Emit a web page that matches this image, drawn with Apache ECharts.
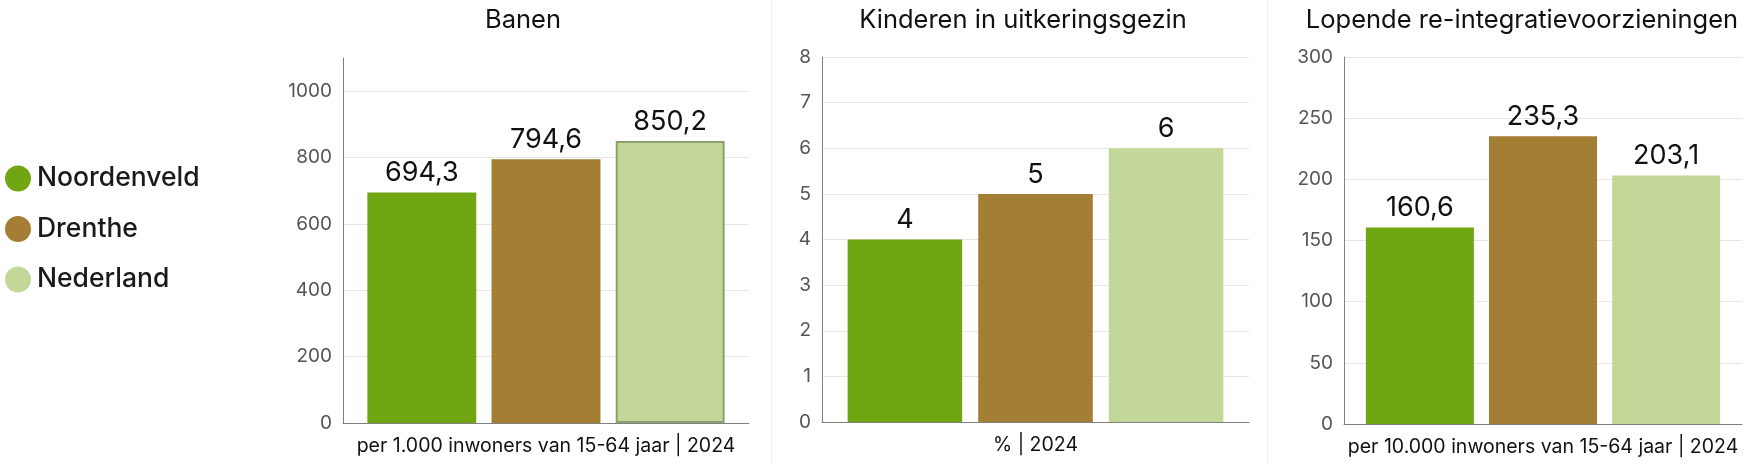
<!DOCTYPE html>
<html lang="nl">
<head>
  <meta charset="UTF-8">
  <title>kerncijfers</title>
  <script src="https://cdn.jsdelivr.net/npm/echarts@6/dist/echarts.min.js"></script>
  <style>
    *{
      margin:0;
      padding:0;
    }
    body{
      background:#fff;
    }
    .container{
      width:1754px;
      height:464px;
    }
  </style>
</head>
<body>
  <div class="container"></div>

  <script type="text/javascript">
    // gebieden (legenda)
    var regions = ['Noordenveld', 'Drenthe', 'Nederland']
    var regionColors = ['#6fa612', '#a57e35', '#c3d898']

    // titels en eenheden per paneel
    var titles = ['Banen', 'Kinderen in uitkeringsgezin', 'Lopende re-integratievoorzieningen']
    var units = [
      'per 1.000 inwoners van 15-64 jaar | 2024',
      '% | 2024',
      'per 10.000 inwoners van 15-64 jaar | 2024'
    ]

    // waarden per paneel (volgorde = regions)
    var banen = [694.3, 794.6, 850.2]
    var kinderen = [4, 5, 6]
    var reintegratie = [160.6, 235.3, 203.1]

    // y-as schaal per paneel
    var yMax = [1100, 8, 300]
    var yInterval = [200, 1, 50]

    var panelData = [banen, kinderen, reintegratie]

    var grids = [
      { left: 343, top: 58, width: 406, height: 365 },
      { left: 822, top: 57, width: 427, height: 365 },
      { left: 1344, top: 57, width: 398, height: 367 }
    ]
    var catGaps = ['12%', '12%', '11%']
    var titleCenters = [518, 1018, 1517]

    var font = 'Inter, "Noto Sans", sans-serif'

    const mCharts = echarts.init(document.querySelector('.container'))

    var series = []
    panelData.forEach(function(vals, p){
      regions.forEach(function(name, i){
        series.push({
          name: name,
          type: 'bar',
          xAxisIndex: p,
          yAxisIndex: p,
          data: [vals[i]],
          barGap: '14%',
          barCategoryGap: catGaps[p],
          itemStyle: {
            color: regionColors[i],
            // Nederland in het eerste paneel heeft een rand (hover-stand in het origineel)
            borderColor: (p === 0 && i === 2) ? '#8ca06c' : regionColors[i],
            borderWidth: (p === 0 && i === 2) ? 2 : 0
          },
          label: {
            show: true,
            position: 'top',
            distance: 6,
            fontFamily: font,
            fontSize: 27,
            color: '#111',
            formatter: function(d){ return String(d.value).replace('.', ',') }
          }
        })
      })
    })

    var option = {
      animation: false,
      textStyle: { fontFamily: font },
      title: titles.map(function(t, p){
        return {
          text: t,
          left: titleCenters[p],
          top: 2,
          textAlign: 'center',
          textStyle: { fontFamily: font, fontSize: 25.5, fontWeight: 'normal', color: '#111' }
        }
      }),
      legend: {
        data: regions,
        orient: 'vertical',
        left: 0,
        top: 160,
        icon: 'circle',
        itemWidth: 26,
        itemHeight: 26,
        itemGap: 23.5,
        itemStyle: { borderWidth: 0 },
        textStyle: { fontFamily: font, fontSize: 26.5, fontWeight: 500, color: '#1a1a1a', padding: [0, 0, 0, 1] }
      },
      graphic: [
        { type: 'rect', shape: { x: 771, y: 0, width: 1, height: 464 }, style: { fill: '#efefef' }, silent: true },
        { type: 'rect', shape: { x: 1267, y: 0, width: 1, height: 464 }, style: { fill: '#efefef' }, silent: true }
      ],
      grid: grids.map(function(g){
        return Object.assign({ containLabel: false, outerBoundsMode: 'none' }, g)
      }),
      xAxis: units.map(function(u, p){
        return {
          type: 'category',
          gridIndex: p,
          data: [u],
          axisLine: { lineStyle: { color: '#808080', width: 1 } },
          axisTick: { show: false },
          axisLabel: { fontFamily: font, fontSize: 19.5, color: '#111', margin: 13 }
        }
      }),
      yAxis: yMax.map(function(m, p){
        return {
          type: 'value',
          gridIndex: p,
          min: 0,
          max: m,
          interval: yInterval[p],
          axisLine: { show: true, lineStyle: { color: '#808080', width: 1 } },
          axisTick: { show: false },
          axisLabel: {
            fontFamily: font, fontSize: 19, color: '#555', margin: 11,
            showMaxLabel: p === 0 ? false : true,
            formatter: function(v){ return String(v) }
          },
          splitLine: { show: true, showMaxLine: p === 0 ? false : true, lineStyle: { color: '#e6e6e6', width: 1 } }
        }
      }),
      series: series
    }
    mCharts.setOption(option)

    window.onresize = mCharts.resize
  </script>
</body>
</html>
